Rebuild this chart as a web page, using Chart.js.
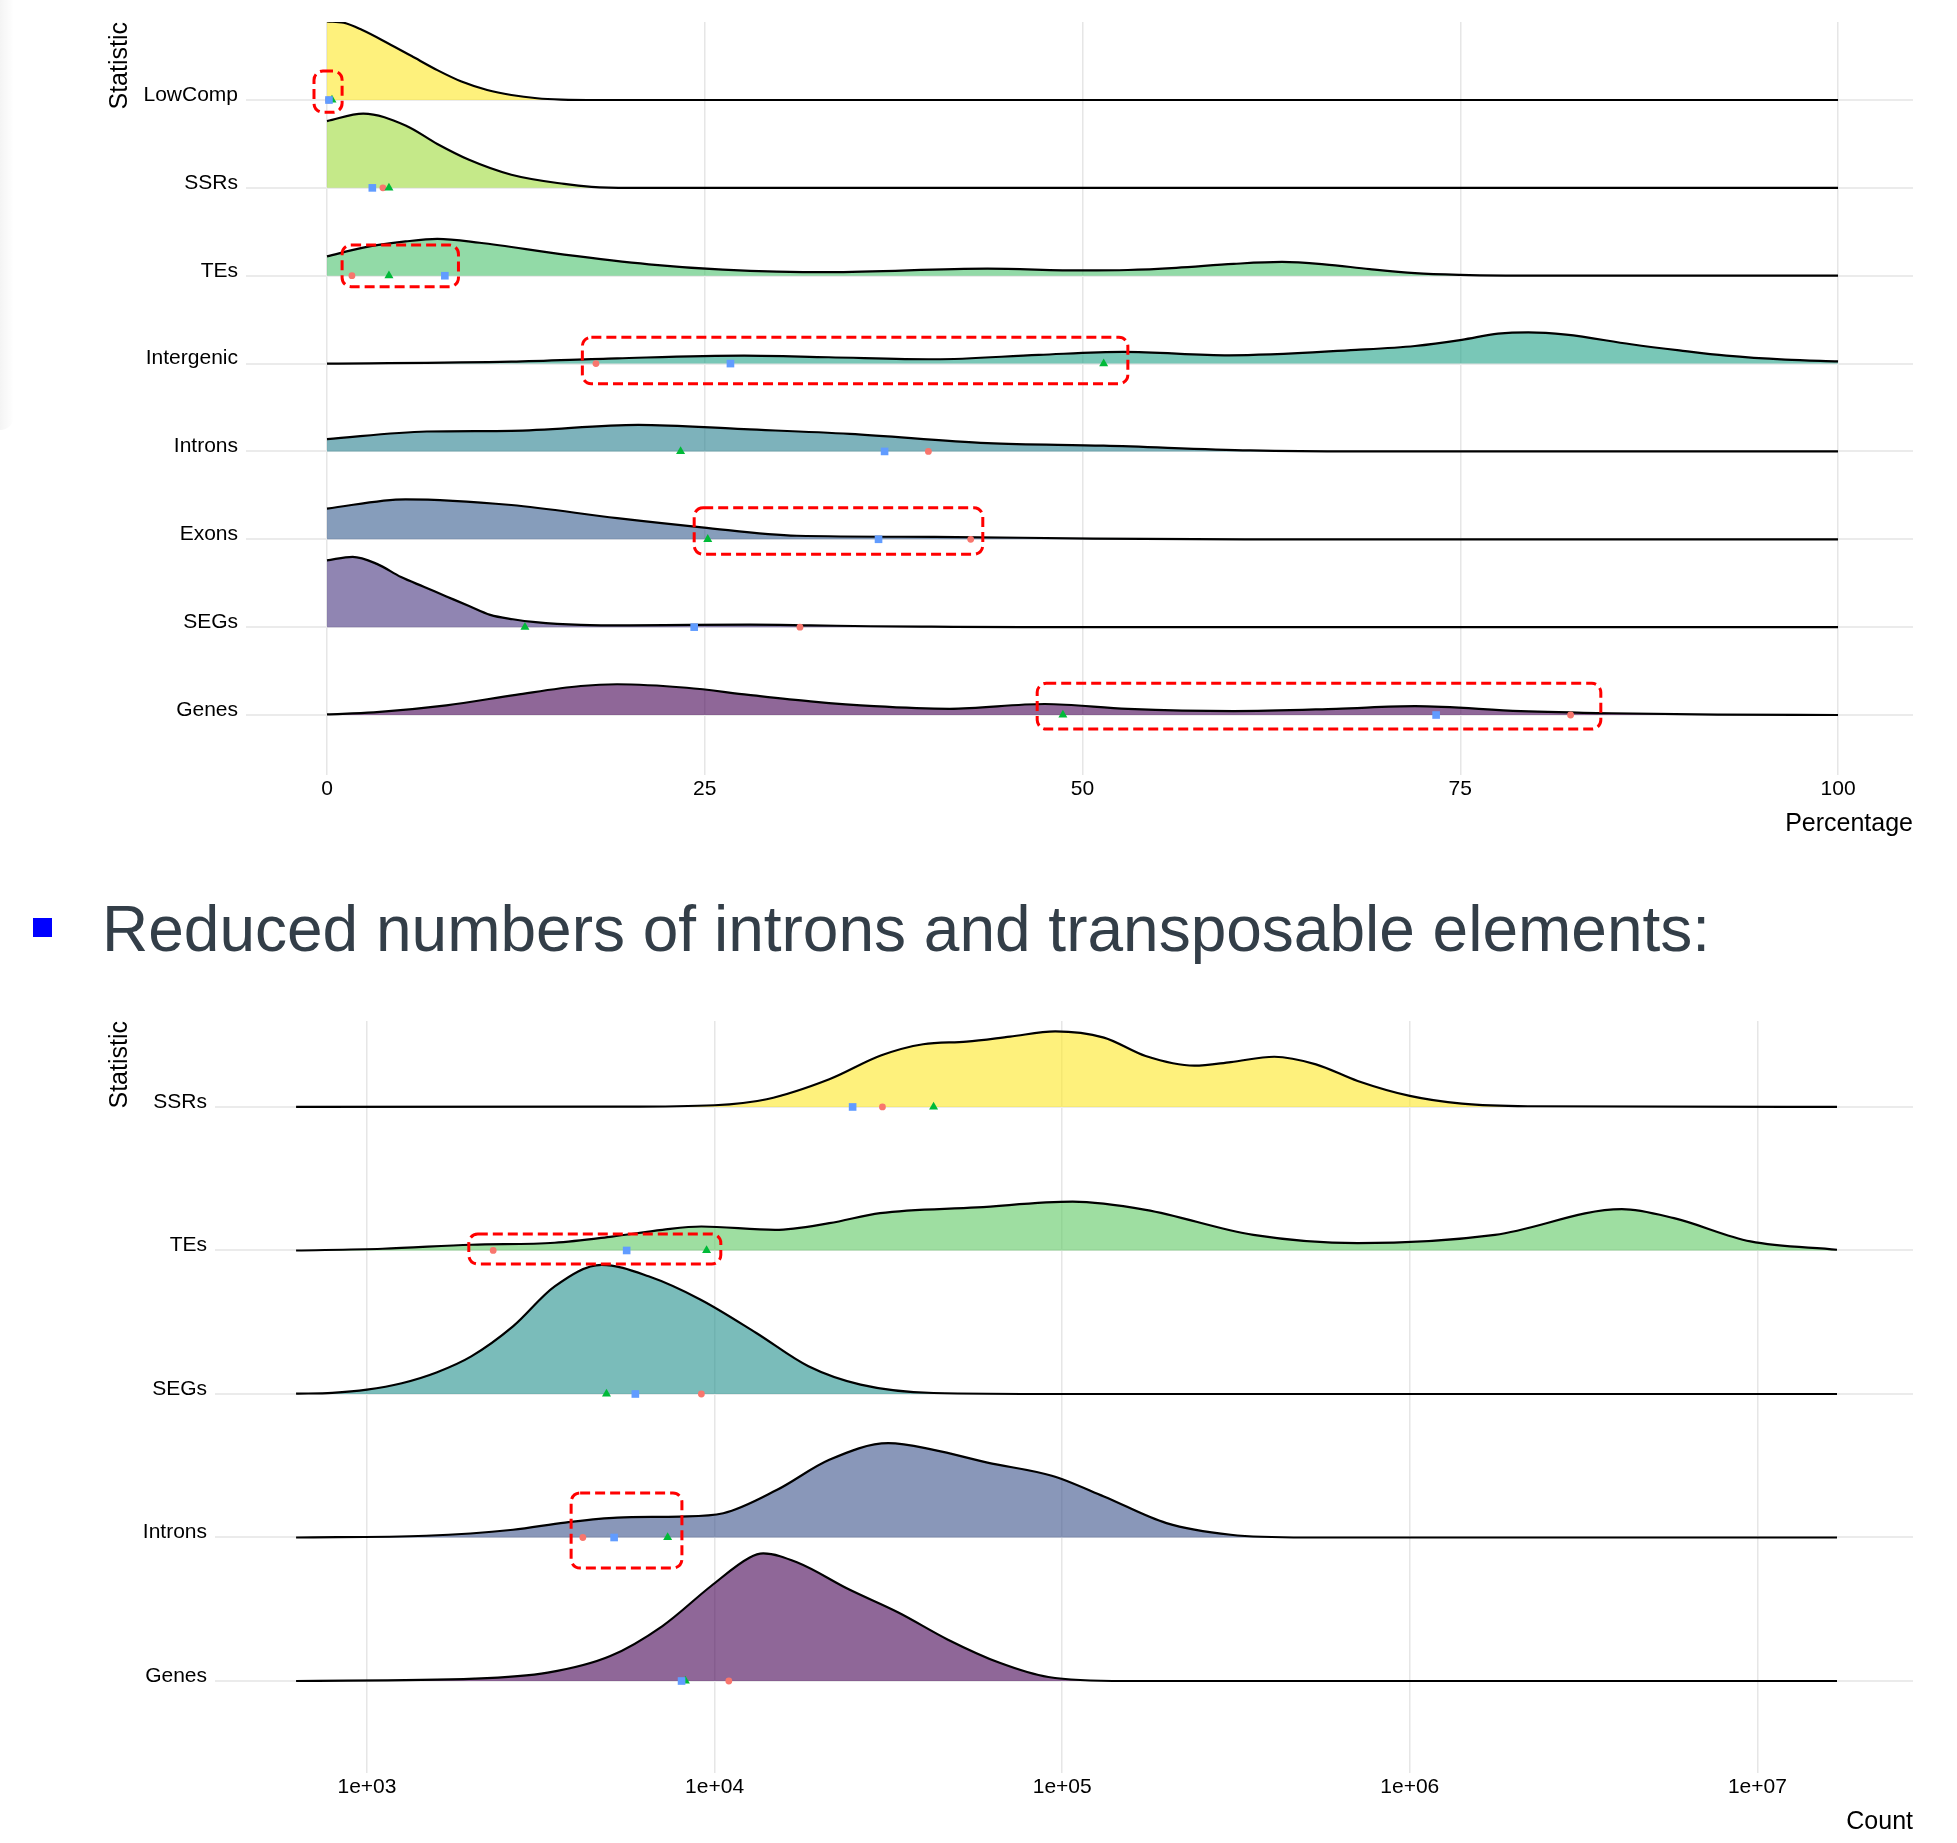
<!DOCTYPE html>
<html>
<head>
<meta charset="utf-8">
<title>Ridgelines: percentage and count per statistic</title>
<script src="https://cdn.jsdelivr.net/npm/chart.js@4.4.1/dist/chart.umd.min.js"></script>
<style>
  html, body { margin: 0; padding: 0; background: #fff; }
  body { width: 1957px; height: 1843px; position: relative; overflow: hidden; font-family: 'Liberation Sans', Arial, sans-serif; }
  #percentChart { position: absolute; left: 0; top: 0; }
  #countChart { position: absolute; left: 0; top: 1000px; }
  .edgeShade { position: absolute; left: 0; top: 0; width: 14px; height: 430px; background: linear-gradient(to right, rgba(0,0,0,0.045), rgba(0,0,0,0)); border-bottom-right-radius: 14px; }
  .bullet { position: absolute; left: 33px; top: 918px; width: 19px; height: 19px; background: #0000ff; }
  .heading { position: absolute; left: 102px; top: 897px; font-size: 64px; line-height: 64px; color: #333e48; white-space: nowrap; }
</style>
</head>
<body>
<div class="edgeShade"></div>
<canvas id="percentChart" width="1957" height="850"></canvas>
<div class="bullet"></div>
<div class="heading">Reduced numbers of introns and transposable elements:</div>
<canvas id="countChart" width="1957" height="843"></canvas>

<script>
// ---------- data: percentage panel (rows from bottom to top) ----------
const percentRows = ['Genes', 'SEGs', 'Exons', 'Introns', 'Intergenic', 'TEs', 'SSRs', 'LowComp'];
const percentTicks = [0, 25, 50, 75, 100];

// ridge outlines: x in %, height in row units
const genesPctX = [0, 3.1, 7.9, 12.5, 16.8, 19.2, 23.8, 27.9, 32, 36.2, 41.2, 47.5, 53, 60, 66.8, 72, 79, 85, 92, 100];
const genesPctH = [0.006, 0.03, 0.11, 0.23, 0.33, 0.35, 0.31, 0.23, 0.156, 0.10, 0.07, 0.125, 0.07, 0.045, 0.07, 0.10, 0.045, 0.02, 0.004, 0];
const segsPctX = [0, 1.7, 3.3, 4.9, 6.4, 7.9, 9.4, 10.8, 12.3, 13.8, 16.8, 20, 24, 28, 32, 36, 40, 46, 100];
const segsPctH = [0.76, 0.80, 0.72, 0.57, 0.46, 0.35, 0.24, 0.14, 0.09, 0.057, 0.026, 0.02, 0.026, 0.028, 0.02, 0.01, 0.005, 0, 0];
const exonsPctX = [0, 5.2, 12.2, 19.2, 24.8, 31.1, 40.2, 50.7, 61.1, 100];
const exonsPctH = [0.35, 0.455, 0.39, 0.24, 0.136, 0.04, 0.028, 0.008, 0, 0];
const intronsPctX = [0, 6.6, 12.2, 20.6, 27.6, 34.6, 43.7, 51.4, 61.1, 68.1, 100];
const intronsPctH = [0.14, 0.227, 0.235, 0.303, 0.253, 0.2, 0.094, 0.065, 0.011, 0, 0];
const intergenicPctX = [0, 12.2, 19.2, 27.6, 33.2, 40.2, 47.1, 52.7, 59.7, 68.1, 72, 75.1, 77.5, 79.5, 82, 86.3, 89.5, 92.6, 96.5, 100];
const intergenicPctH = [0, 0.023, 0.06, 0.09, 0.072, 0.049, 0.099, 0.133, 0.094, 0.156, 0.2, 0.27, 0.34, 0.356, 0.33, 0.22, 0.15, 0.09, 0.045, 0.026];
const tesPctX = [0, 2.4, 5.2, 7.3, 10.1, 15.7, 21.3, 26.2, 33.2, 43.7, 50, 53, 56.2, 60, 63.2, 66, 69, 72, 75, 78, 82, 100];
const tesPctH = [0.22, 0.32, 0.39, 0.42, 0.375, 0.24, 0.13, 0.07, 0.04, 0.08, 0.06, 0.065, 0.09, 0.135, 0.157, 0.13, 0.075, 0.03, 0.01, 0.002, 0, 0];
const ssrsPctX = [0, 2.4, 5.2, 7.3, 9.4, 12.2, 15.7, 17.5, 20, 100];
const ssrsPctH = [0.76, 0.845, 0.71, 0.50, 0.32, 0.15, 0.045, 0.012, 0, 0];
const lowCompPctX = [0, 1.1, 2.3, 4, 5.6, 7.3, 8.9, 10.6, 12.2, 13.9, 15.5, 18, 100];
const lowCompPctH = [0.895, 0.88, 0.8, 0.65, 0.5, 0.34, 0.21, 0.114, 0.057, 0.02, 0.005, 0, 0];

// summary markers per row (same row order)
const percentRed = [82.3, 31.3, 42.6, 39.8, 17.8, 1.65, 3.7, 0.1];
const percentBlue = [73.4, 24.3, 36.5, 36.9, 26.7, 7.8, 3.0, 0.13];
const percentGreen = [48.7, 13.1, 25.2, 23.4, 51.4, 4.1, 4.1, 0.33];

// highlighted groups: [x from, x to, row from, row to]
const percentHighlights = [
  [-0.86, 1.0, 6.86, 7.33],
  [1.0, 8.7, 4.875, 5.35],
  [16.9, 53.0, 3.77, 4.30],
  [24.3, 43.4, 1.83, 2.36],
  [47.0, 84.3, -0.16, 0.36]
];

// ---------- data: count panel (rows from bottom to top) ----------
const countRows = ['Genes', 'Introns', 'SEGs', 'TEs', 'SSRs'];
const countTicks = [1e3, 1e4, 1e5, 1e6, 1e7];

// ridge outlines: x as log10(count), height in row units
const genesLogX = [2.796, 3.31, 3.52, 3.70, 3.85, 3.99, 4.10, 4.14, 4.24, 4.386, 4.53, 4.67, 4.82, 4.96, 5.18, 7.229];
const genesLogH = [0, 0.016, 0.058, 0.174, 0.383, 0.662, 0.859, 0.889, 0.824, 0.639, 0.476, 0.29, 0.127, 0.028, 0, 0];
const intronsLogX = [2.796, 3.17, 3.42, 3.57, 3.72, 3.9, 4.025, 4.18, 4.33, 4.5, 4.63, 4.785, 4.97, 5.12, 5.30, 5.485, 5.7, 7.229];
const intronsLogH = [0, 0.012, 0.054, 0.104, 0.139, 0.146, 0.169, 0.332, 0.541, 0.657, 0.611, 0.522, 0.43, 0.286, 0.10, 0.019, 0, 0];
const segsLogX = [2.796, 2.9, 3.0, 3.1, 3.2, 3.3, 3.42, 3.54, 3.675, 3.81, 3.96, 4.12, 4.27, 4.42, 4.63, 5.0, 7.229];
const segsLogH = [0.002, 0.008, 0.03, 0.075, 0.15, 0.262, 0.471, 0.75, 0.90, 0.82, 0.657, 0.425, 0.193, 0.065, 0.007, 0, 0];
const tesLogX = [2.796, 3.045, 3.3, 3.54, 3.705, 3.85, 3.962, 4.174, 4.33, 4.476, 4.755, 5.03, 5.24, 5.55, 5.85, 6.245, 6.61, 6.76, 6.98, 7.229];
const tesLogH = [0, 0.012, 0.04, 0.054, 0.097, 0.144, 0.167, 0.144, 0.19, 0.26, 0.30, 0.34, 0.283, 0.109, 0.051, 0.109, 0.288, 0.225, 0.063, 0.005];
const ssrsLogX = [2.796, 3.72, 4.0, 4.15, 4.33, 4.48, 4.60, 4.725, 4.85, 4.98, 5.12, 5.24, 5.38, 5.485, 5.61, 5.73, 5.85, 6.0, 6.15, 6.34, 7.229];
const ssrsLogH = [0, 0.002, 0.012, 0.054, 0.193, 0.36, 0.437, 0.455, 0.49, 0.527, 0.483, 0.355, 0.288, 0.313, 0.35, 0.297, 0.181, 0.077, 0.023, 0.005, 0];

// summary markers per row (counts)
const countRed = [10990, 4178, 9162, 2307, 30400];
const countBlue = [8035, 5140, 5916, 5585, 24950];
const countGreen = [8241, 7328, 4887, 9484, 42660];

// highlighted groups: [count from, count to, row from, row to]
const countHighlights = [
  [1963, 10420, 2.906, 3.115],
  [3866, 8054, 0.787, 1.31]
];

// ---------- styling ----------
const fontFamily = "'Liberation Sans', Arial, sans-serif";
const percentColors = ['#440154', '#46337E', '#365C8D', '#277F8E', '#1FA187', '#4AC16D', '#9FDA3A', '#FDE725'];
const countColors = ['#440154', '#3B528B', '#21908C', '#5DC863', '#FDE725'];
const markRed = '#F8766D', markBlue = '#619CFF', markGreen = '#00BA38';

Chart.defaults.font.family = fontFamily;
Chart.defaults.color = '#000';

const withAlpha = (hex, a) => {
  const n = parseInt(hex.slice(1), 16);
  return `rgba(${n >> 16}, ${(n >> 8) & 255}, ${n & 255}, ${a})`;
};

// a ridge is a line filled down to its own row baseline
const ridgeDataset = (row, xs, hs, color, toX) => ({
  data: xs.map((v, i) => ({ x: toX(v), y: row + hs[i] })),
  borderColor: '#000',
  borderWidth: 2.2,
  backgroundColor: withAlpha(color, 0.6),
  fill: { value: row },
  pointRadius: 0,
  cubicInterpolationMode: 'monotone',
  order: 10 + row
});

const markerDataset = (values, style, color, radius, order) => ({
  data: values.map((v, i) => ({ x: v, y: i })),
  showLine: false,
  pointStyle: style,
  pointRadius: radius,
  pointBackgroundColor: color,
  pointBorderWidth: 0,
  order: order
});

// dashed red rounded boxes around marker groups
const highlightBoxes = {
  id: 'highlightBoxes',
  afterDatasetsDraw(chart, args, opts) {
    const { ctx, scales: { x, y } } = chart;
    ctx.save();
    ctx.strokeStyle = '#ff0000';
    ctx.lineWidth = 3;
    ctx.setLineDash([10, 5]);
    (opts.boxes || []).forEach(([x0, x1, y0, y1]) => {
      const l = x.getPixelForValue(x0), r = x.getPixelForValue(x1);
      const t = y.getPixelForValue(y1), b = y.getPixelForValue(y0);
      ctx.beginPath();
      ctx.roundRect(l, t, r - l, b - t, 9);
      ctx.stroke();
    });
    ctx.restore();
  }
};

const axisTitle = (text, padding) => ({
  display: true, text: text, align: 'end', color: '#000',
  font: { size: 25, family: fontFamily }, padding: padding
});

const buildChart = (canvasId, cfg) => new Chart(document.getElementById(canvasId), {
  type: 'line',
  data: { datasets: cfg.datasets },
  plugins: [highlightBoxes],
  options: {
    responsive: false,
    animation: false,
    devicePixelRatio: 1,
    layout: { padding: { top: cfg.padTop, right: 44, bottom: 0, left: 0 } },
    plugins: {
      legend: { display: false },
      tooltip: { enabled: false },
      highlightBoxes: { boxes: cfg.boxes }
    },
    scales: {
      x: {
        type: cfg.xType,
        min: cfg.xMin,
        max: cfg.xMax,
        afterBuildTicks: s => { s.ticks = cfg.xTicks.map(v => ({ value: v })); },
        afterFit: s => { s.height = cfg.xAxisHeight; },
        ticks: { color: '#000', padding: 2, maxRotation: 0, autoSkip: false, font: { size: 21 }, callback: cfg.xLabel },
        grid: { color: '#e6e6e6', lineWidth: 1.5, drawTicks: false },
        border: { display: false },
        title: axisTitle(cfg.xTitle, { top: 0, bottom: cfg.xTitlePad })
      },
      y: {
        type: 'linear',
        min: cfg.yMin,
        max: cfg.yMax,
        afterBuildTicks: s => { s.ticks = cfg.rows.map((_, i) => ({ value: i })); },
        afterFit: s => { s.width = cfg.yAxisWidth; },
        ticks: { color: '#000', padding: 8, labelOffset: -5, autoSkip: false, font: { size: 21 }, callback: v => cfg.rows[v] },
        grid: { color: '#ebebeb', lineWidth: 2, drawTicks: false },
        border: { display: false },
        title: axisTitle('Statistic', { top: 105, bottom: 0 })
      }
    }
  }
});

const percentDatasets = [
  markerDataset(percentBlue, 'rect', markBlue, 5.4, 0),
  markerDataset(percentGreen, 'triangle', markGreen, 5.2, 1),
  markerDataset(percentRed, 'circle', markRed, 3.4, 2),
  ridgeDataset(0, genesPctX, genesPctH, percentColors[0], v => v),
  ridgeDataset(1, segsPctX, segsPctH, percentColors[1], v => v),
  ridgeDataset(2, exonsPctX, exonsPctH, percentColors[2], v => v),
  ridgeDataset(3, intronsPctX, intronsPctH, percentColors[3], v => v),
  ridgeDataset(4, intergenicPctX, intergenicPctH, percentColors[4], v => v),
  ridgeDataset(5, tesPctX, tesPctH, percentColors[5], v => v),
  ridgeDataset(6, ssrsPctX, ssrsPctH, percentColors[6], v => v),
  ridgeDataset(7, lowCompPctX, lowCompPctH, percentColors[7], v => v)
];

const fromLog = e => Math.pow(10, e);
const countDatasets = [
  markerDataset(countBlue, 'rect', markBlue, 5.4, 0),
  markerDataset(countGreen, 'triangle', markGreen, 5.2, 1),
  markerDataset(countRed, 'circle', markRed, 3.4, 2),
  ridgeDataset(0, genesLogX, genesLogH, countColors[0], fromLog),
  ridgeDataset(1, intronsLogX, intronsLogH, countColors[1], fromLog),
  ridgeDataset(2, segsLogX, segsLogH, countColors[2], fromLog),
  ridgeDataset(3, tesLogX, tesLogH, countColors[3], fromLog),
  ridgeDataset(4, ssrsLogX, ssrsLogH, countColors[4], fromLog)
];

buildChart('percentChart', {
  datasets: percentDatasets,
  rows: percentRows,
  boxes: percentHighlights,
  padTop: 22,
  xType: 'linear', xMin: -5.36, xMax: 104.96,
  xTicks: percentTicks,
  xLabel: v => String(v),
  xTitle: 'Percentage', xTitlePad: 11, xAxisHeight: 75,
  yMin: -0.683, yMax: 7.888, yAxisWidth: 246
});

buildChart('countChart', {
  datasets: countDatasets,
  rows: countRows,
  boxes: countHighlights,
  padTop: 21,
  xType: 'logarithmic', xMin: 365.4, xMax: 2.803e7,
  xTicks: countTicks,
  xLabel: v => '1e+' + String(Math.round(Math.log10(v))).padStart(2, '0'),
  xTitle: 'Count', xTitlePad: 6, xAxisHeight: 70,
  yMin: -0.641, yMax: 4.599, yAxisWidth: 215
});
</script>
</body>
</html>
